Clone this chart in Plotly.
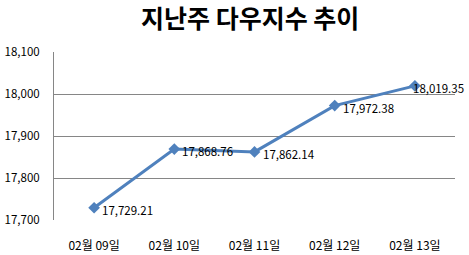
import plotly.graph_objects as go

categories = ["02월 09일", "02월 10일", "02월 11일", "02월 12일", "02월 13일"]
values = [17729.21, 17868.76, 17862.14, 17972.38, 18019.35]
label_shift = [6, 6, 6, 6, -4]
title = "지난주 다우지수 추이"
y_ticks = [17700, 17800, 17900, 18000, 18100]

fig = go.Figure()
fig.add_trace(go.Scatter(
    x=categories, y=values, mode="lines+markers",
    line=dict(color="#4F81BD", width=3),
    marker=dict(symbol="diamond", size=9, color="#4F81BD"),
    hoverinfo="skip",
))
for c, v, s in zip(categories, values, label_shift):
    fig.add_annotation(
        x=c, y=v, text=f"{v:,.2f}", showarrow=False,
        xanchor="left", yanchor="middle", xshift=s, yshift=-2,
        font=dict(family="Noto Sans CJK KR", size=11.5, color="#000000"),
    )

plot_h = 255 - 52 - 35
fig.add_annotation(
    x=0.49, xref="paper", xanchor="center",
    y=1 + (52 - 17) / plot_h, yref="paper", yanchor="middle",
    text=f"<b>{title}</b>", showarrow=False,
    font=dict(family="Noto Sans CJK KR", size=25, color="#000000"),
)

fig.update_layout(
    width=469, height=255,
    margin=dict(l=54, r=14, t=52, b=35),
    paper_bgcolor="white", plot_bgcolor="white",
    showlegend=False,
    font=dict(family="Noto Sans CJK KR", size=12, color="#000000"),
)

fig.update_xaxes(
    type="category", range=[-0.5, 4.5], showgrid=False, zeroline=False,
    showline=False, ticks="", ticklabelstandoff=17, automargin=False,
    tickfont=dict(family="Noto Sans CJK KR", size=12, color="#000000"),
)
fig.update_yaxes(
    range=[17700, 18100], tickvals=y_ticks,
    ticktext=[f"{t:,}" for t in y_ticks],
    showgrid=True, gridcolor="#868686", gridwidth=1,
    zeroline=False, showline=True, linecolor="#868686", linewidth=1,
    ticks="", ticklabelstandoff=11, automargin=False,
    tickfont=dict(family="Noto Sans CJK KR", size=11.5, color="#000000"),
)
fig.write_html("out.html")
